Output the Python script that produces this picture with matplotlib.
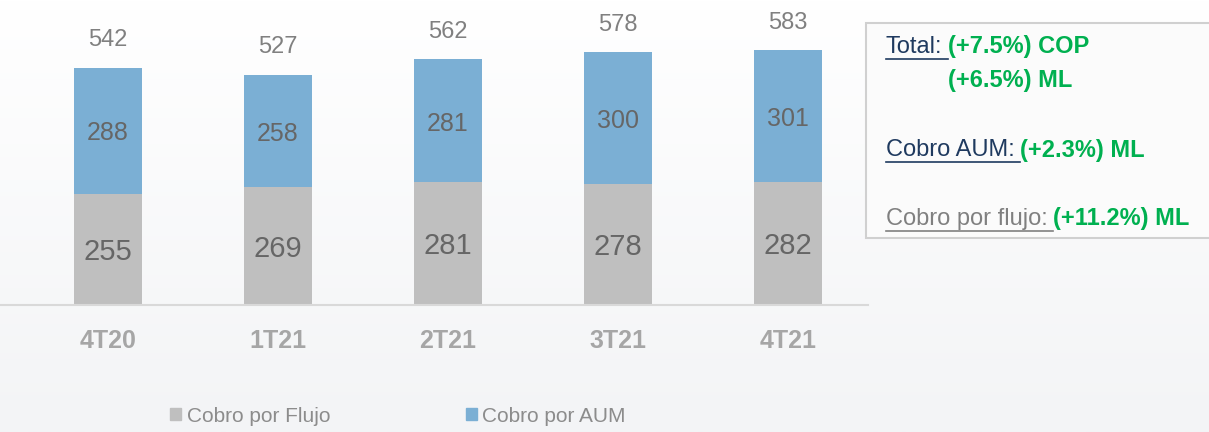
"""
Cobro por flujo / Cobro por AUM stacked bars with a summary box.
"""
import matplotlib
matplotlib.use('Agg')
import matplotlib.pyplot as plt
import numpy as np
from matplotlib.patches import Patch, Rectangle
from matplotlib.lines import Line2D

periods = ['4T20', '1T21', '2T21', '3T21', '4T21']
flujo = [255, 269, 281, 278, 282]
aum = [288, 258, 281, 300, 301]
totals = [542, 527, 562, 578, 583]

GRAY = '#bfbfbf'
BLUE = '#7bafd4'
GREEN = '#00b050'
NAVY = '#1f3a5f'

plt.rcParams['font.family'] = ['Liberation Sans', 'DejaVu Sans']

W, H = 1209, 432
fig = plt.figure(figsize=(W / 100, H / 100), dpi=100)

# background gradient
bg = fig.add_axes([0, 0, 1, 1], zorder=-10)
grad = np.linspace(0, 1, 256).reshape(-1, 1)
bg.imshow(grad, aspect='auto', extent=[0, 1, 0, 1], origin='upper',
          cmap=matplotlib.colors.LinearSegmentedColormap.from_list(
              'bg', ['#ffffff', '#f3f4f6']))
bg.set_axis_off()

ax = fig.add_axes([0, 1 - 305 / H, 868 / W, 305 / H])
ax.patch.set_alpha(0)
x = np.arange(len(periods))
ax.bar(x, flujo, width=0.4, color=GRAY, label='Cobro por Flujo')
ax.bar(x, aum, width=0.4, bottom=flujo, color=BLUE, label='Cobro por AUM')

for i in range(len(periods)):
    ax.annotate(str(flujo[i]), (x[i], flujo[i] / 2), xytext=(0, -2),
                textcoords='offset points', ha='center', va='center',
                fontsize=21, color='#666666')
    ax.annotate(str(aum[i]), (x[i], flujo[i] + aum[i] / 2), xytext=(0, -2),
                textcoords='offset points', ha='center', va='center',
                fontsize=18, color='#666666')
    ax.annotate(str(totals[i]), (x[i], flujo[i] + aum[i]), xytext=(0, 12),
                textcoords='offset points', ha='center', va='bottom',
                fontsize=17, color='#808080')

ax.set_xlim(-108 / 170, (868 - 108) / 170)
ax.set_ylim(0, 305 / 0.437)
for s in ['top', 'left', 'right']:
    ax.spines[s].set_visible(False)
ax.spines['bottom'].set_color('#d9d9d9')
ax.spines['bottom'].set_linewidth(1.5)
ax.set_yticks([])
ax.set_xticks(x)
ax.set_xticklabels(periods, fontsize=18, fontweight='bold', color='#a6a6a6')
ax.tick_params(axis='x', length=0, pad=17)

handles = [Patch(color=GRAY), Patch(color=BLUE)]
fig.legend(handles, ['Cobro por Flujo', 'Cobro por AUM'], loc='center left',
           bbox_to_anchor=(170 / W, 1 - 416 / H), ncol=2, frameon=False,
           fontsize=15, labelcolor='#8c8c8c', handlelength=0.55,
           handleheight=0.55, handletextpad=0.25, columnspacing=6.5,
           borderpad=0, borderaxespad=0)

# summary box
box = Rectangle((866 / W, 1 - 238 / H), 400 / W, 215 / H,
                transform=fig.transFigure, facecolor='#fbfbfb',
                edgecolor='#d0d0d0', linewidth=1.5, zorder=1)
fig.add_artist(box)

FS = 17
SPACE = 5  # px width of trailing space
rows = [
    (47, 'Total:', NAVY, '(+7.5%) COP'),
    (150, 'Cobro AUM:', NAVY, '(+2.3%) ML'),
    (219, 'Cobro por flujo:', '#808080', '(+11.2%) ML'),
]
fig.canvas.draw()
r = fig.canvas.get_renderer()
first_green = None
for y, lab, col, val in rows:
    t = fig.text(886 / W, 1 - y / H, lab, fontsize=FS, color=col,
                 va='center', zorder=2)
    bb = t.get_window_extent(r)
    x1 = bb.x1 + SPACE
    uy = bb.y0 - 1
    fig.add_artist(Line2D([bb.x0 / W, x1 / W], [uy / H, uy / H],
                          color=col, linewidth=1.2, zorder=2))
    fig.text(x1 / W, 1 - y / H, val, fontsize=FS, color=GREEN,
             fontweight='bold', va='center', zorder=2)
    if first_green is None:
        first_green = x1 / W
fig.text(first_green, 1 - 80 / H, '(+6.5%) ML', fontsize=FS, color=GREEN,
         fontweight='bold', va='center', zorder=2)

fig.savefig('out.png', dpi=100)
